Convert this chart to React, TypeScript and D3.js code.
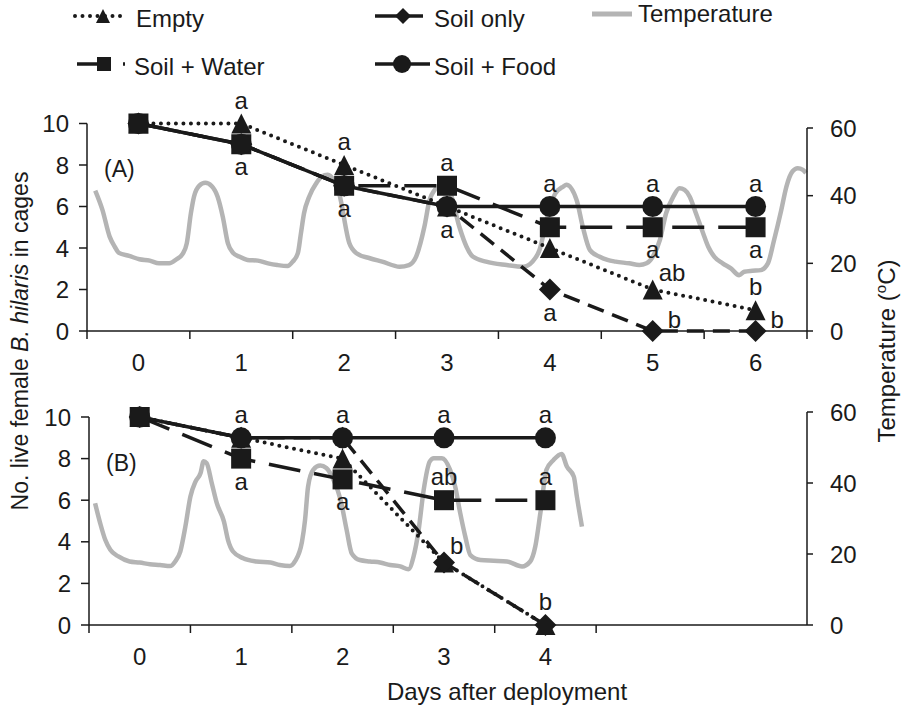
import * as d3 from 'd3';

const FONT = '"Liberation Sans", Arial, Helvetica, sans-serif';
const INK = '#1a1a1a';
const TEMP_GREY = '#b4b4b4';

// panel A (6 days) and panel B (4 days)
const daysA = [0, 1, 2, 3, 4, 5, 6];
const emptyA = [10, 10, 8, 6, 4, 2, 1];
const soilOnlyA = [10, 9, 7, 6, 2, 0, 0];
const soilWaterA = [10, 9, 7, 7, 5, 5, 5];
const soilFoodA = [10, 9, 7, 6, 6, 6, 6];

const daysB = [0, 1, 2, 3, 4];
const emptyB = [10, 9, 8, 3, 0];
const soilOnlyB = [10, 9, 9, 3, 0];
const soilWaterB = [10, 8, 7, 6, 6];
const soilFoodB = [10, 9, 9, 9, 9];

const countTicks = [0, 2, 4, 6, 8, 10];
const tempTicks = [0, 20, 40, 60];

// temperature trace: [day, °C]
const tempA: [number, number][] = [
  [-0.42, 41.5], [-0.35, 35.8], [-0.28, 27.9], [-0.23, 24.9], [-0.19, 23.1], [-0.09, 22.2],
  [0.01, 21.2], [0.11, 20.8], [0.2, 20.0], [0.3, 20.0], [0.37, 21.2], [0.43, 22.8],
  [0.47, 25.9], [0.51, 34.8], [0.54, 39.7], [0.59, 42.9], [0.65, 43.8], [0.71, 42.9],
  [0.77, 39.7], [0.82, 33.8], [0.87, 25.9], [0.92, 23.1], [0.98, 22.0], [1.06, 21.0],
  [1.16, 20.8], [1.26, 20.0], [1.35, 19.5], [1.45, 19.2], [1.5, 20.5], [1.55, 23.0],
  [1.58, 28.9], [1.61, 34.8], [1.66, 39.7], [1.73, 43.7], [1.78, 45.6], [1.84, 46.2],
  [1.9, 44.5], [1.95, 40.8], [2.05, 26.0], [2.12, 23.0], [2.25, 21.5], [2.37, 20.5],
  [2.54, 19.0], [2.63, 19.5], [2.7, 22.0], [2.78, 30.8], [2.83, 38.7], [2.88, 41.7],
  [2.95, 43.5], [3.03, 41.0], [3.12, 30.8], [3.19, 24.9], [3.25, 22.0], [3.38, 20.5],
  [3.58, 19.5], [3.74, 19.0], [3.83, 20.5], [3.9, 24.0], [3.97, 33.0], [4.05, 40.5],
  [4.13, 42.7], [4.16, 43.2], [4.26, 38.7], [4.32, 30.8], [4.39, 23.9], [4.48, 22.0],
  [4.56, 21.0], [4.64, 20.5], [4.77, 20.0], [4.87, 19.5], [4.94, 20.0], [5.0, 21.9],
  [5.07, 26.9], [5.13, 34.8], [5.2, 39.7], [5.26, 42.2], [5.31, 41.7], [5.36, 39.7],
  [5.42, 34.8], [5.49, 28.9], [5.54, 24.9], [5.6, 21.9], [5.68, 20.0], [5.76, 18.5],
  [5.84, 16.5], [5.89, 17.5], [5.97, 17.8], [6.05, 18.0], [6.12, 20.0], [6.18, 26.9],
  [6.25, 35.8], [6.3, 42.7], [6.36, 47.2], [6.41, 48.1], [6.46, 47.6], [6.49, 46.7],
];

const tempB: [number, number][] = [
  [-0.44, 34.3], [-0.39, 28.7], [-0.34, 24.0], [-0.29, 21.2], [-0.21, 19.3], [-0.1, 17.9],
  [0.0, 17.6], [0.1, 17.1], [0.2, 16.9], [0.3, 16.6], [0.35, 17.9], [0.4, 20.7],
  [0.45, 27.7], [0.5, 36.2], [0.55, 40.4], [0.6, 42.8], [0.63, 46.1], [0.66, 45.6],
  [0.71, 40.0], [0.76, 34.3], [0.83, 29.2], [0.87, 24.0], [0.92, 20.7], [1.02, 18.8],
  [1.15, 17.9], [1.29, 17.6], [1.38, 16.9], [1.48, 16.6], [1.53, 17.9], [1.6, 23.5],
  [1.63, 29.6], [1.66, 39.0], [1.71, 43.7], [1.78, 44.9], [1.84, 44.2], [1.91, 40.9],
  [1.98, 35.3], [2.04, 26.8], [2.09, 20.2], [2.17, 18.3], [2.27, 17.9], [2.37, 17.6],
  [2.47, 16.9], [2.57, 16.5], [2.65, 15.7], [2.7, 19.3], [2.75, 26.8], [2.8, 38.1],
  [2.86, 46.1], [2.9, 47.0], [2.98, 47.0], [3.06, 43.7], [3.11, 39.0], [3.16, 31.5],
  [3.21, 24.9], [3.26, 19.7], [3.36, 18.3], [3.49, 18.1], [3.62, 17.9], [3.77, 16.5],
  [3.85, 17.9], [3.9, 22.1], [3.95, 31.5], [4.01, 43.7], [4.08, 46.5], [4.16, 48.2],
  [4.21, 44.7], [4.28, 41.8], [4.31, 36.2], [4.36, 27.7],
];

type Place = 'above' | 'below' | 'right' | 'upright';
// significance letters: [day, count, letter, placement]
const lettersA: [number, number, string, Place][] = [
  [1, 10, 'a', 'above'], [1, 9, 'a', 'below'],
  [2, 8, 'a', 'above'], [2, 7, 'a', 'below'],
  [3, 7, 'a', 'above'], [3, 6, 'a', 'below'],
  [4, 6, 'a', 'above'], [4, 2, 'a', 'below'],
  [5, 6, 'a', 'above'], [5, 5, 'a', 'below'], [5, 2, 'ab', 'upright'], [5, 0, 'b', 'right'],
  [6, 6, 'a', 'above'], [6, 5, 'a', 'below'], [6, 1, 'b', 'above'], [6, 0, 'b', 'right'],
];
const lettersB: [number, number, string, Place][] = [
  [1, 9, 'a', 'above'], [1, 8, 'a', 'below'],
  [2, 9, 'a', 'above'], [2, 7, 'a', 'below'],
  [3, 9, 'a', 'above'], [3, 6, 'ab', 'above'], [3, 3, 'b', 'upright'],
  [4, 9, 'a', 'above'], [4, 6, 'a', 'above'], [4, 0, 'b', 'above'],
];

type Kind = 'triangle' | 'diamond' | 'square' | 'circle';
const treatments: { name: string; kind: Kind; dash?: string; cap?: 'round' | 'butt'; width: number }[] = [
  { name: 'Empty', kind: 'triangle', dash: '0 7.5', cap: 'round', width: 4 },
  { name: 'Soil only', kind: 'diamond', dash: '17 9', width: 3.5 },
  { name: 'Soil + Water', kind: 'square', dash: '32 14', width: 3.5 },
  { name: 'Soil + Food', kind: 'circle', width: 3.5 },
];

function Marker({ kind, x, y, size }: { kind: Kind; x: number; y: number; size: number }) {
  const h = size / 2;
  if (kind === 'circle') return <circle cx={x} cy={y} r={h} fill={INK} />;
  if (kind === 'square') return <rect x={x - h} y={y - h} width={size} height={size} fill={INK} />;
  if (kind === 'triangle')
    return <path d={`M${x},${y - h}L${x + h},${y + h}L${x - h},${y + h}Z`} fill={INK} />;
  const k = h + 1;
  return <path d={`M${x},${y - k}L${x + k},${y}L${x},${y + k}L${x - k},${y}Z`} fill={INK} />;
}

function Panel({
  x, y, t, days, values, temp, letters, tickDays, rightX, tag,
}: {
  x: d3.ScaleLinear<number, number>;
  y: d3.ScaleLinear<number, number>;
  t: d3.ScaleLinear<number, number>;
  days: number[];
  values: number[][];
  temp: [number, number][];
  letters: [number, number, string, Place][];
  tickDays: number[];
  rightX: number;
  tag: string;
}) {
  const x0 = x.range()[0];
  const y0 = y(0);
  const tempLine = d3
    .line<[number, number]>()
    .x((d) => x(d[0]))
    .y((d) => t(d[1]))
    .curve(d3.curveMonotoneX);
  const countLine = d3
    .line<number>()
    .x((_, i) => x(days[i]))
    .y((v) => y(v));

  return (
    <g>
      <path d={tempLine(temp) || ''} fill="none" stroke={TEMP_GREY} strokeWidth={4.5} strokeLinejoin="round" />

      {/* axes */}
      <line x1={x0} x2={rightX} y1={y0} y2={y0} stroke={INK} strokeWidth={1.5} />
      {tickDays.map((d) => (
        <line key={d} x1={x(d)} x2={x(d)} y1={y0} y2={y0 + 8} stroke={INK} strokeWidth={1.5} />
      ))}
      {days.map((d) => (
        <text key={d} x={x(d)} y={y0 + 40} textAnchor="middle" fontSize={24}>{d}</text>
      ))}
      <line x1={x0} x2={x0} y1={y(10)} y2={y0} stroke={INK} strokeWidth={1.5} />
      {countTicks.map((v) => (
        <g key={v}>
          <line x1={x0 - 8} x2={x0} y1={y(v)} y2={y(v)} stroke={INK} strokeWidth={1.5} />
          <text x={x0 - 18} y={y(v)} dy="0.36em" textAnchor="end" fontSize={24}>{v}</text>
        </g>
      ))}
      <line x1={rightX} x2={rightX} y1={t(60)} y2={t(0)} stroke={INK} strokeWidth={1.5} />
      {tempTicks.map((v) => (
        <g key={v}>
          <line x1={rightX} x2={rightX + 6} y1={t(v)} y2={t(v)} stroke={INK} strokeWidth={1.5} />
          <text x={rightX + 23} y={t(v)} dy="0.36em" fontSize={24}>{v}</text>
        </g>
      ))}
      <text x={x0 + 17} y={y(8) + 12} fontSize={23}>{tag}</text>

      {/* treatment lines */}
      {treatments.map((s, i) => (
        <path
          key={s.name}
          d={countLine(values[i]) || ''}
          fill="none"
          stroke={INK}
          strokeWidth={s.width}
          strokeDasharray={s.dash}
          strokeLinecap={s.cap || 'butt'}
        />
      ))}
      {treatments.map((s, i) =>
        values[i].map((v, j) => (
          <Marker key={`${s.name}-${j}`} kind={s.kind} x={x(days[j])} y={y(v)} size={s.kind === 'circle' ? 21 : 20} />
        ))
      )}

      {letters.map(([d, v, txt, place], i) => {
        const px = x(d);
        const py = y(v);
        if (place === 'above')
          return <text key={i} x={px} y={py - 15} textAnchor="middle" fontSize={24}>{txt}</text>;
        if (place === 'below')
          return <text key={i} x={px} y={py + 31} textAnchor="middle" fontSize={24}>{txt}</text>;
        if (place === 'right')
          return <text key={i} x={px + 15} y={py - 3} fontSize={24}>{txt}</text>;
        return <text key={i} x={px + 6} y={py - 9} fontSize={24}>{txt}</text>;
      })}
    </g>
  );
}

function Legend() {
  const rows = [
    { s: treatments[0], x: 75, y: 16, len: 52, mark: 103, text: 136, base: 27 },
    { s: treatments[1], x: 375, y: 16, len: 48, mark: 403, text: 434, base: 27 },
    { s: treatments[2], x: 77, y: 64, len: 48, mark: 104, text: 134, base: 75 },
    { s: treatments[3], x: 375, y: 64, len: 55, mark: 402, text: 434, base: 75 },
  ];
  return (
    <g>
      {rows.map((r) => (
        <g key={r.s.name}>
          <line
            x1={r.x}
            x2={r.x + r.len}
            y1={r.y}
            y2={r.y}
            stroke={INK}
            strokeWidth={r.s.width}
            strokeDasharray={r.s.kind === 'diamond' ? undefined : r.s.dash}
            strokeLinecap={r.s.cap || 'butt'}
          />
          <Marker kind={r.s.kind} x={r.mark} y={r.y} size={r.s.kind === 'circle' ? 18 : 14} />
          <text x={r.text} y={r.base} fontSize={24}>{r.s.name}</text>
        </g>
      ))}
      <line x1={592} x2={632} y1={14} y2={14} stroke={TEMP_GREY} strokeWidth={5} />
      <text x={638} y={22} fontSize={24}>Temperature</text>
    </g>
  );
}

export default function App() {
  const width = 907;
  const height = 707;
  const rightX = 807;

  const xA = d3.scaleLinear().domain([-0.5, 6.5]).range([87, 807]);
  const yA = d3.scaleLinear().domain([0, 10]).range([331, 123.5]);
  const tA = d3.scaleLinear().domain([0, 60]).range([331, 128]);

  const xB = d3.scaleLinear().domain([-0.5, 6.5]).range([89, 799]);
  const yB = d3.scaleLinear().domain([0, 10]).range([625, 417]);
  const tB = d3.scaleLinear().domain([0, 60]).range([625, 412]);

  return (
    <svg
      width={width}
      height={height}
      style={{ position: 'absolute', left: 0, top: 0, background: '#fff', fontFamily: FONT }}
      fill={INK}
    >
      <Legend />
      <Panel
        x={xA}
        y={yA}
        t={tA}
        days={daysA}
        values={[emptyA, soilOnlyA, soilWaterA, soilFoodA]}
        temp={tempA}
        letters={lettersA}
        tickDays={d3.range(-0.5, 7, 1)}
        rightX={rightX}
        tag="(A)"
      />
      <Panel
        x={xB}
        y={yB}
        t={tB}
        days={daysB}
        values={[emptyB, soilOnlyB, soilWaterB, soilFoodB]}
        temp={tempB}
        letters={lettersB}
        tickDays={d3.range(-0.5, 5, 1)}
        rightX={rightX}
        tag="(B)"
      />

      <text transform="translate(28,341) rotate(-90)" textAnchor="middle" fontSize={23}>
        No. live female <tspan fontStyle="italic">B. hilaris</tspan> in cages
      </text>
      <text transform="translate(895,351) rotate(-90)" textAnchor="middle" fontSize={24}>
        Temperature (<tspan fontSize={15} dy={-9}>o</tspan>
        <tspan dy={9}>C)</tspan>
      </text>
      <text x={507} y={700} textAnchor="middle" fontSize={24}>Days after deployment</text>
    </svg>
  );
}
